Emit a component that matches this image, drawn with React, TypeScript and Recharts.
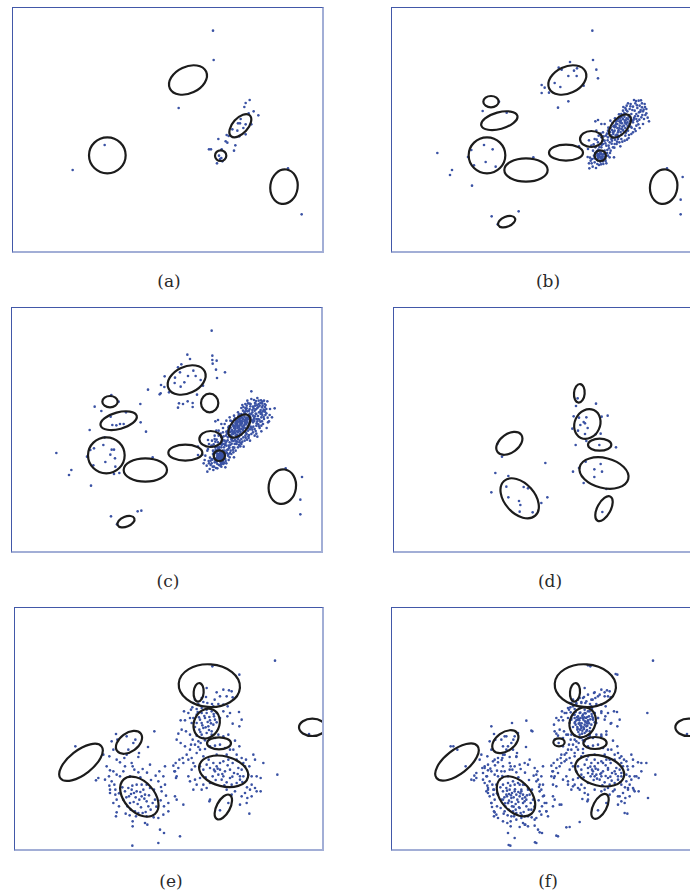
import React from "react";
import { ScatterChart, Scatter, XAxis, YAxis } from "recharts";

// All positions in "picture units" (3 per pixel),
// each panel has its own origin (x0, y0) in those units.
type P = [number, number];
type E = [number, number, number, number, number]; // cx, cy, rx, ry, angle

const aDots: P[] = [
  [615,80],[617,168],[512,312],[290,423],[194,498],[840,493],[881,631],[725,288],[713,297],[709,309],
  [737,322],[751,334],[722,328],[698,345],[690,358],[696,358],[713,361],[730,361],[706,372],[673,376],
  [688,380],[713,391],[694,397],[662,396],[656,393],[631,405],[653,412],[658,416],[682,424],[678,440],
  [603,436],[609,436],[641,436],[633,455],[640,462],[627,478],[643,472],[636,465],
];
const aEll: E[] = [
  [540,228,60,40,-25],[298,454,55,54,0],[697,365,42,23,-48],[638,455,17,16,0],[828,548,41,52,8],
];

const bBlob: P[] = [
  [680,380],[688,372],[695,365],[702,358],[710,350],[716,343],[690,385],[676,390],[684,360],[700,375],
  [708,365],[694,352],[718,355],[705,345],[672,378],[686,392],[698,384],[712,372],[722,338],[680,370],
  [692,378],[703,368],[711,356],[688,360],[675,385],[699,350],[715,360],[683,395],[706,380],[694,372],
  [670,395],[720,346],[727,340],[679,365],[691,345],[709,338],[700,392],[666,384],[687,350],[713,330],
  [730,330],[740,320],[748,312],[755,305],[762,298],[770,300],[758,318],[745,330],[738,342],[750,336],
  [765,322],[775,315],[735,308],[725,315],[718,322],[742,298],[752,290],[728,300],[716,305],[705,320],
  [760,340],[772,333],[783,352],[765,360],[748,352],[735,355],[740,375],[728,368],[720,380],[755,372],
  [745,365],[730,390],[712,395],[722,402],[735,385],[710,410],[700,405],[690,405],[768,345],[745,345],
  [720,298],[738,288],[712,312],[700,330],[732,350],[753,325],[762,310],[724,360],[775,328],[714,386],
  [660,400],[650,410],[645,420],[655,425],[665,415],[670,405],[640,430],[632,440],[625,448],[618,455],
  [612,465],[620,475],[628,480],[635,470],[642,462],[648,450],[630,458],[640,450],[637,445],[645,472],
  [652,465],[660,455],[668,440],[675,430],[680,420],[672,410],[658,438],[650,440],[622,430],[615,440],
  [608,470],[603,478],[614,488],[624,492],[633,483],[646,480],[655,478],[665,460],[678,460],[686,420],
  [694,415],[662,425],[654,395],[640,400],[630,415],[620,405],[610,425],[600,435],[625,380],[632,395],
  [645,385],[660,380],[650,360],[630,348],[622,352],[667,350],[640,360],
  [632,452],[640,458],[636,460],[644,452],[630,462],[638,448],[642,466],[628,455],
  [683,367],[691,381],[697,356],[704,377],[713,349],[719,366],[677,383],[689,394],[701,339],[709,327],
  [726,352],[733,318],[741,337],[747,304],[757,323],[763,333],[771,309],[779,341],[754,347],[743,381],
  [731,371],[723,393],[717,407],[703,413],[693,398],[681,407],[671,419],[663,433],[657,447],[649,458],
  [643,441],[634,429],[627,441],[619,463],[611,478],[606,461],[617,421],[626,407],[638,389],[647,397],
  [659,409],[667,393],[674,401],[687,413],[697,427],[679,431],[666,447],[653,471],[639,481],[629,469],
  [621,447],[631,437],[641,423],[652,418],[661,371],[673,357],[681,343],[693,331],[706,309],[727,307],
  [744,291],[759,289],[767,317],[751,361],[737,347],[723,333],[714,317],[696,343],[684,353],[676,367],
  [668,371],[657,389],[646,409],[635,452],[643,459],[639,463],[633,457],[629,449],[646,466],[637,473],
];
const bOut: P[] = [
  [613,80],[615,168],[546,174],[625,197],[630,223],[512,191],[521,197],[558,200],[567,193],[541,216],
  [566,216],[500,237],[517,249],[587,245],[461,243],[470,251],[461,267],[483,266],[541,292],[510,311],
  [333,293],[284,321],[356,326],[148,447],[250,438],[288,423],[314,436],[240,459],[293,474],[258,484],
  [323,488],[192,498],[186,513],[252,545],[436,460],[573,427],[603,409],[599,459],[604,493],[837,493],
  [884,519],[878,587],[878,631],[311,637],[392,622],[329,661],
];
const bEll: E[] = [
  [538,228,60,40,-25],[309,293,23,17,0],[334,350,56,25,-15],[297,454,55,54,0],[414,498,65,35,0],
  [534,446,51,24,0],[610,405,34,24,0],[696,366,42,23,-48],[637,455,17,16,0],[827,548,41,52,8],
  [356,653,27,15,-22],
];

const cExtra: P[] = [
  [682,375],[690,368],[697,360],[704,352],[712,346],[686,382],[678,372],[694,380],[700,362],[707,372],
  [716,350],[689,355],[673,388],[681,387],[696,390],[710,362],[719,342],[725,335],[703,342],[692,366],
  [733,325],[744,316],[752,300],[764,305],[778,292],[768,290],[730,262],[757,297],[741,305],[723,320],
  [735,335],[750,345],[762,352],[780,355],[800,313],[770,318],[758,330],[746,358],[736,368],[726,376],
  [716,390],[706,400],[695,410],[685,412],[726,410],[740,395],[760,365],[730,285],[718,290],[748,282],
  [712,300],[700,312],[690,325],[678,335],[665,340],[655,350],[645,372],[632,380],[620,395],[612,410],
  [603,420],[598,440],[592,455],[590,468],[596,485],[605,495],[618,488],[628,493],[622,470],[615,450],
  [628,428],[636,420],[648,430],[655,445],[662,468],[670,450],[683,440],[690,430],[700,420],[676,445],
  [664,430],[645,440],[634,436],[626,462],[644,478],[652,490],[640,488],
  [633,450],[639,455],[641,461],[629,458],[635,466],[646,457],
  [687,363],[695,377],[701,354],[707,384],[715,341],[721,371],[671,381],[685,399],[699,336],[711,323],
  [729,347],[737,313],[743,329],[751,309],[761,327],[767,339],[773,303],[785,333],[757,353],[745,389],
  [733,377],[721,397],[713,401],[699,417],[689,403],[677,411],[667,423],[659,437],[651,451],[645,463],
  [641,447],[631,433],[623,437],[613,467],[608,483],[602,471],[613,427],[622,413],[633,391],[643,401],
  [655,413],[663,397],[671,407],[683,419],[693,423],[675,437],[661,451],[649,477],[637,485],[625,475],
  [617,443],[627,441],[639,419],[651,423],[663,367],[671,351],[679,347],[691,337],[703,303],[725,299],
  [741,297],[763,293],[771,323],[753,367],[739,351],[725,329],[716,313],[694,347],[682,357],[674,363],
  [664,377],[655,383],[642,413],[633,459],[641,451],[637,467],[630,453],[627,461],[648,461],[639,477],
  [786,315],[792,340],[776,372],[760,382],[748,398],[707,428],[616,498],[598,503],[587,478],[583,452],
];
const cOut: P[] = [
  [611,80],[613,155],[613,168],[626,170],[614,179],[624,197],[627,222],[651,205],[538,152],[546,165],
  [520,181],[510,190],[516,205],[540,216],[556,200],[563,216],[578,228],[585,245],[501,221],[529,235],
  [518,248],[500,237],[470,217],[459,243],[469,249],[458,268],[455,271],[483,265],[420,257],[539,292],
  [554,297],[554,309],[513,298],[510,311],[567,272],[525,300],[310,273],[332,293],[260,308],[280,321],
  [354,325],[308,338],[397,300],[313,363],[325,364],[336,360],[347,360],[398,355],[245,378],[414,383],
  [290,400],[258,433],[286,423],[311,437],[318,437],[247,438],[237,458],[307,452],[292,474],[321,463],
  [256,484],[322,488],[334,507],[318,510],[190,498],[183,513],[249,545],[145,447],[434,460],[570,428],
  [570,453],[600,408],[833,493],[882,519],[877,587],[877,631],[309,637],[389,622],[400,620],[327,661],
];
const cEll: E[] = [
  [536,228,60,40,-25],[306,293,23,17,0],[332,350,56,25,-15],[295,454,55,54,0],[412,498,65,35,0],
  [532,446,51,24,0],[605,297,26,28,0],[608,405,34,24,0],[694,366,42,23,-48],[634,455,17,16,0],
  [823,548,41,52,8],[354,653,27,15,-22],
];

const dDots: P[] = [
  [563,283],[558,306],[618,299],[551,337],[567,341],[589,340],[635,338],[653,335],[581,354],[585,358],
  [571,363],[593,372],[547,374],[564,380],[585,390],[617,391],[632,389],[589,411],[557,423],[628,423],
  [678,430],[466,477],[336,458],[322,420],[316,507],[355,516],[349,548],[401,549],[414,553],[304,565],
  [355,580],[387,591],[391,603],[454,597],[472,580],[389,623],[428,625],[587,473],[613,496],[636,503],
  [632,480],[613,519],[549,503],[581,537],[649,555],[637,624],[567,492],
];
const dEll: E[] = [
  [568,268,16,28,5],[592,360,38,46,25],[629,422,35,18,0],[642,507,75,45,14],[642,614,20,41,28],
  [358,418,44,28,-36],[389,583,70,45,48],
];

const eDots: P[] = [
  // left group
  [318,393],[305,415],[310,440],[322,410],[376,410],[370,420],[355,440],[343,465],[350,455],[387,450],
  [414,432],[433,385],[350,400],[290,490],[300,502],[297,520],[305,535],[298,548],[300,560],[313,545],
  [316,575],[320,590],[327,610],[320,628],[347,632],[360,600],[357,580],[365,560],[372,570],[380,565],
  [388,590],[395,580],[400,560],[405,575],[410,595],[415,610],[422,620],[428,600],[435,590],[432,560],
  [420,555],[410,545],[395,545],[380,545],[367,548],[355,555],[345,565],[340,590],[352,610],[362,620],
  [375,625],[385,630],[398,630],[410,640],[368,655],[368,670],[378,640],[412,665],[405,660],[445,645],
  [460,635],[475,625],[462,610],[468,578],[455,565],[452,592],[465,545],[460,520],[445,535],[448,505],
  [465,490],[420,485],[398,498],[385,508],[373,500],[360,520],[340,505],[330,520],[320,515],[310,505],
  [285,530],[265,525],[258,532],[280,455],[298,460],[320,470],[330,478],[345,490],[365,480],[385,462],
  [368,490],[316,560],[300,570],[310,600],[318,640],[450,680],[462,690],[445,720],[367,728],[510,700],
  [520,605],[495,580],[500,590],[475,600],[490,488],[495,505],[500,520],[196,430],
  [363,573],[377,583],[391,567],[403,587],[417,577],[383,603],[371,597],[393,613],[407,627],[359,637],
  [337,553],[327,571],[349,583],[439,611],[431,643],[423,531],[437,518],[453,552],[411,509],[391,523],
  // upper middle group
  [607,190],[688,215],[590,255],[620,268],[640,260],[657,262],[665,265],[650,280],[630,280],[614,290],
  [606,303],[592,300],[580,297],[565,303],[550,300],[547,313],[560,318],[575,315],[590,320],[605,325],
  [620,330],[640,325],[660,330],[687,327],[695,350],[688,370],[668,362],[652,340],[630,345],[615,350],
  [600,352],[585,345],[570,350],[560,335],[550,345],[545,360],[555,372],[568,380],[580,375],[595,370],
  [610,365],[620,358],[605,385],[590,390],[575,395],[560,398],[548,410],[540,395],[528,385],[515,380],
  [505,392],[500,410],[512,420],[525,430],[540,440],[530,455],[518,465],[545,465],[560,450],[570,440],
  [585,438],[600,430],[615,428],[630,425],[645,435],[660,440],[675,413],[688,430],[655,395],[640,400],
  [625,395],[615,405],[600,405],[585,412],[572,420],[565,432],[580,460],[596,470],[512,352],[525,352],
  [522,325],[535,330],[543,320],[555,290],[575,285],[588,282],[610,310],[625,303],[640,305],[653,310],
  [668,283],[540,345],[598,342],[612,340],[575,360],[560,360],[590,330],[575,330],[605,395],[580,405],
  [555,425],[543,425],[565,415],
  [583,339],[593,357],[577,367],[567,343],[603,361],[587,373],[571,387],[597,381],[563,327],[611,333],
  // lower middle group
  [497,480],[505,495],[493,505],[498,525],[508,470],[520,480],[535,470],[550,480],[545,500],[535,520],
  [540,535],[555,530],[570,525],[580,545],[575,560],[590,555],[600,540],[608,520],[612,500],[620,490],
  [630,480],[640,475],[655,470],[668,480],[680,470],[695,465],[708,470],[730,455],[735,470],[760,480],
  [802,515],[752,525],[740,520],[725,520],[715,515],[700,520],[690,530],[680,540],[665,545],[650,538],
  [635,530],[625,515],[615,505],[630,500],[645,505],[660,500],[672,510],[685,495],[695,500],[705,490],
  [718,490],[725,545],[735,555],[720,560],[705,570],[695,580],[712,585],[725,580],[740,565],[752,565],
  [710,600],[718,632],[690,605],[655,600],[630,622],[600,590],[598,595],[560,545],[550,560],[580,500],
  [600,495],[610,480],[590,485],[570,490],[555,490],[620,455],[650,455],[670,440],[680,455],[700,480],
  [690,520],[660,525],[640,520],[650,560],[675,565],[665,575],[795,173],[897,393],
  [623,497],[637,513],[653,487],[667,521],[683,513],[617,531],[643,547],[697,537],[711,553],[587,523],
];
const eEll: E[] = [
  [598,248,92,64,4],[566,268,15,28,5],[590,362,38,46,25],[627,421,36,18,0],[641,505,75,45,14],
  [640,612,20,41,28],[357,418,44,28,-36],[388,581,70,45,48],[213,478,78,36,-38],[907,373,40,26,0],
];

const fExtra: P[] = [
  [570,340],[578,345],[586,350],[594,345],[600,355],[590,365],[580,370],[572,362],[565,352],[585,335],
  [598,368],[576,380],[588,378],[603,340],[560,345],[568,372],[595,385],[582,392],[574,352],[591,355],
  [606,375],[563,365],[556,335],[550,350],[548,328],[600,325],[612,318],[620,330],[615,345],[625,360],
  [630,345],[640,330],[545,300],[555,310],[565,300],[580,300],[595,295],[610,290],[622,285],[635,275],
  [650,268],[660,280],[618,270],[600,275],[585,285],[570,290],[540,315],[530,330],[520,342],[505,345],
  [498,365],[500,385],[510,398],[525,405],[535,395],[550,395],[560,410],[575,405],[590,415],[605,400],
  [640,395],[655,385],[670,360],[678,325],[650,350],[520,455],[530,475],[515,490],[510,510],[490,520],
  [495,545],[505,550],[525,530],[540,545],[555,550],[570,555],[590,570],[583,588],[600,575],[620,560],
  [640,565],[660,555],[680,560],[700,545],[715,535],[730,530],[745,520],[760,505],[775,480],[750,478],
  [735,490],[720,500],[700,460],[690,450],[665,470],[645,480],[620,470],[600,460],[585,450],[560,460],
  [550,440],[535,450],[565,505],[580,515],[600,510],[620,520],[640,510],[660,495],[680,505],[700,510],
  [715,475],[690,580],[700,595],[710,630],[720,555],[737,560],[780,585],[778,330],[600,187],[683,213],
  [310,370],[372,360],[415,353],[430,383],[390,390],[380,400],[355,400],[340,410],[345,430],[360,430],
  [375,440],[385,460],[365,462],[345,455],[330,465],[315,475],[300,485],[290,495],[285,510],[295,520],
  [290,540],[300,555],[295,565],[305,580],[310,600],[312,612],[318,625],[325,635],[330,645],[345,655],
  [358,660],[360,690],[380,705],[395,672],[410,665],[420,670],[440,668],[455,688],[441,718],[362,726],
  [505,698],[535,673],[480,640],[475,625],[470,600],[465,580],[460,560],[455,545],[450,530],[445,515],
  [440,495],[425,470],[410,480],[395,485],[380,490],[365,500],[350,505],[335,530],[325,545],[318,560],
  [330,575],[345,590],[360,600],[372,610],[383,620],[395,615],[405,600],[415,590],[425,575],[420,560],
  [400,565],[385,575],[370,585],[355,575],[345,545],[360,540],[375,535],[390,540],[405,545],[430,620],
  [420,640],[400,645],[385,650],[370,640],[350,625],[338,615],[455,625],[440,650],[495,610],[515,605],
  [545,672],[575,657],[233,490],[259,518],[250,530],[265,510],[188,430],[208,440],[283,495],[275,470],
  [573,347],[581,361],[589,343],[597,361],[569,377],[583,383],[561,357],[593,331],[577,329],[607,349],
  [357,563],[369,577],[381,559],[397,571],[411,583],[363,593],[377,611],[391,597],[401,637],[351,601],
  [341,471],[321,487],[307,497],[327,503],[343,519],[613,513],[627,527],[653,519],[671,533],[607,491],
];
const fEll: E[] = [
  [592,248,92,64,4],[561,268,15,28,5],[584,358,38,46,25],[621,420,35,18,0],[635,503,75,45,14],
  [636,610,20,41,28],[513,418,17,12,0],[352,416,44,28,-36],[384,580,70,45,48],[207,477,78,36,-38],
  [902,373,40,26,0],
];

const labels = ["(a)", "(b)", "(c)", "(d)", "(e)", "(f)"];

const K = 3; // picture units per pixel
const toPts = (a: P[]) => a.map(([x, y]) => ({ x, y }));
const toEll = (a: E[]) => a.map(([x, y, rx, ry, ang]) => ({ x, y, rx, ry, ang }));

const panels = [
  { left: 12, top: 7, w: 312, h: 246, x0: 12, y0: 9, dots: aDots, ells: aEll },
  { left: 391, top: 7, w: 312, h: 246, x0: 9, y0: 9, dots: [...bBlob, ...bOut], ells: bEll },
  { left: 11, top: 307, w: 312, h: 246, x0: 9, y0: 9, dots: [...bBlob, ...cExtra, ...cOut], ells: cEll },
  { left: 393, top: 307, w: 312, h: 246, x0: 9, y0: 9, dots: dDots, ells: dEll },
  { left: 14, top: 607, w: 310, h: 244, x0: 12, y0: 12, dots: eDots, ells: eEll },
  { left: 391, top: 607, w: 312, h: 244, x0: 9, y0: 12, dots: [...eDots, ...fExtra], ells: fEll },
];

const DotShape = (p: any) => <circle cx={p.cx} cy={p.cy} r={1.3} fill="#3a52a4" />;

const EllShape = (p: any) => {
  const e = p.payload;
  return (
    <ellipse
      cx={p.cx}
      cy={p.cy}
      rx={e.rx / K}
      ry={e.ry / K}
      transform={`rotate(${e.ang} ${p.cx} ${p.cy})`}
      fill="none"
      stroke="#1c1c1c"
      strokeWidth={2.2}
    />
  );
};

const Panel = ({ cfg, label }: { cfg: (typeof panels)[number]; label: string }) => (
  <>
    <div
      style={{
        position: "absolute",
        left: cfg.left,
        top: cfg.top,
        width: cfg.w,
        height: cfg.h,
        overflow: "hidden",
      }}
    >
      <ScatterChart width={cfg.w} height={cfg.h} margin={{ top: 0, right: 0, bottom: 0, left: 0 }}>
        <XAxis type="number" dataKey="x" domain={[cfg.x0, cfg.x0 + cfg.w * K]} allowDataOverflow hide />
        <YAxis type="number" dataKey="y" domain={[cfg.y0, cfg.y0 + cfg.h * K]} allowDataOverflow reversed hide />
        <Scatter data={toPts(cfg.dots)} shape={DotShape} isAnimationActive={false} />
        <Scatter data={toEll(cfg.ells)} shape={EllShape} isAnimationActive={false} />
      </ScatterChart>
      <div
        style={{
          position: "absolute",
          inset: 0,
          boxSizing: "border-box",
          borderTop: "1px solid #4258a8",
          borderLeft: "1px solid #4258a8",
          borderRight: "2px solid #a2aed6",
          borderBottom: "2px solid #a2aed6",
          pointerEvents: "none",
        }}
      />
    </div>
    <div
      style={{
        position: "absolute",
        left: cfg.left + 157 - 30,
        top: cfg.top + 264,
        width: 60,
        lineHeight: "20px",
        textAlign: "center",
        fontFamily: "'DejaVu Serif', serif",
        fontSize: 17,
        color: "#2a2a2a",
      }}
    >
      {label}
    </div>
  </>
);

export default function App() {
  return (
    <div
      style={{
        position: "fixed",
        left: 0,
        top: 0,
        width: 690,
        height: 890,
        overflow: "hidden",
        background: "#fff",
      }}
    >
      {panels.map((cfg, i) => (
        <Panel key={labels[i]} cfg={cfg} label={labels[i]} />
      ))}
    </div>
  );
}
